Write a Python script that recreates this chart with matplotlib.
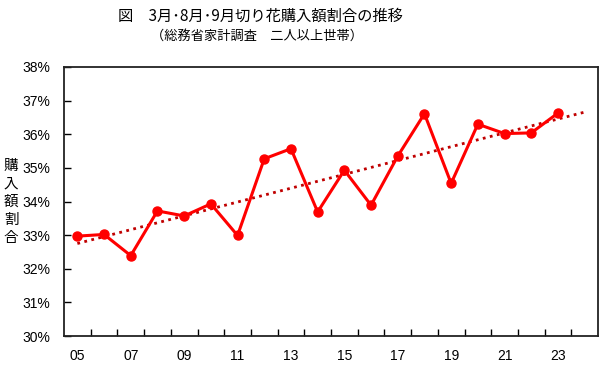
import numpy as np
import matplotlib.pyplot as plt
from matplotlib.ticker import FixedLocator, FuncFormatter

plt.rcParams['font.family'] = ['Liberation Sans', 'Noto Sans CJK JP', 'DejaVu Sans']

years = list(range(2005, 2025))
values = [32.97, 33.02, 32.39, 33.72, 33.57, 33.93, 32.99, 35.27, 35.57, 33.69,
          34.93, 33.89, 35.35, 36.61, 34.54, 36.30, 36.02, 36.04, 36.63]
title = "図　3月･8月･9月切り花購入額割合の推移"
subtitle = "（総務省家計調査　二人以上世帯）"
ylabel = "購\n入\n額\n割\n合"

x = np.arange(len(years))
xd = x[:len(values)]

# linear trend extended one year past the data
coef = np.polyfit(xd, values, 1)
trend = np.polyval(coef, x)

fig = plt.figure(figsize=(6, 3.65), dpi=100)
ax = fig.add_axes([64/600, 1 - 336/365, 534/600, 269/365])

ax.plot(x, trend, color='#c00000', linestyle=(0, (1, 1.6)), linewidth=2.0, zorder=2)
ax.plot(xd, values, color='#ff0000', linewidth=2.2, marker='o', markersize=6.5, zorder=3)

ax.set_xlim(-0.5, len(years) - 0.5)
ax.set_ylim(30, 38)
ax.set_yticks(range(30, 39))
ax.yaxis.set_major_formatter(FuncFormatter(lambda v, p: f"{v:.0f}%"))

ax.xaxis.set_major_locator(FixedLocator(x[::2]))
ax.set_xticklabels([f"{y % 100:02d}" for y in years[::2]])
ax.xaxis.set_minor_locator(FixedLocator(np.arange(0.5, len(years) - 1, 1.0)))
ax.tick_params(axis='x', which='major', length=0, pad=9, labelsize=10)
ax.tick_params(axis='x', which='minor', direction='in', length=5, width=1)
ax.tick_params(axis='y', direction='in', length=5, width=1, labelsize=10, pad=10)

for s in ax.spines.values():
    s.set_linewidth(1.3)
    s.set_color('#222222')

fig.text(260/600, 1 - 16/365, title, ha='center', va='center', fontsize=11,
         family=['Noto Sans CJK JP', 'DejaVu Sans'])
fig.text(257/600, 1 - 36/365, subtitle, ha='center', va='center', fontsize=9.5,
         family=['Noto Sans CJK JP', 'DejaVu Sans'])
fig.text(11/600, 1 - 202/365, ylabel, ha='center', va='center', fontsize=10.5,
         linespacing=1.35, family=['Noto Sans CJK JP', 'DejaVu Sans'])

fig.savefig("out.png", dpi=100)
